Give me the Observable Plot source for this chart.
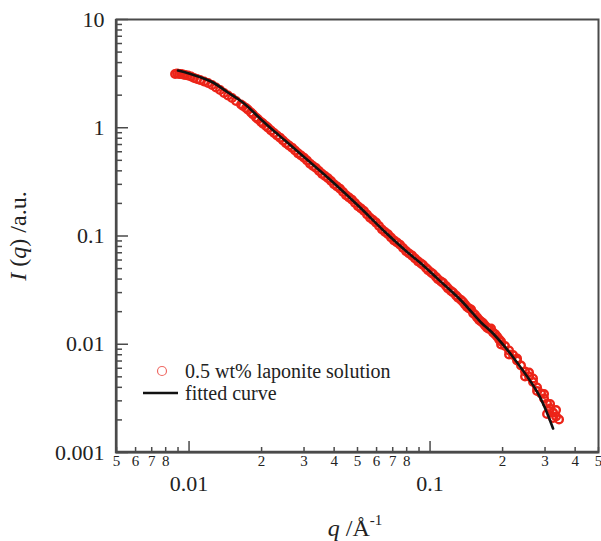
<!DOCTYPE html>
<html><head><meta charset="utf-8">
<script src="https://cdn.jsdelivr.net/npm/d3@7"></script>
<script src="https://cdn.jsdelivr.net/npm/@observablehq/plot@0.6"></script>
<style>
html,body{margin:0;padding:0;background:#fff;overflow:hidden;}
#chart{position:relative;width:601px;height:541px;}
#chart svg{display:block;max-width:none;}
</style></head><body><div id="chart"></div>
<script>
// Measured SAXS intensity (red circles)
const qObs = [0.00875,0.00892,0.00909,0.00926,0.00944,0.00963,0.00990,0.01019,0.01049,0.01079,0.01111,0.01154,0.01199,0.01246,0.01294,0.01345,0.01397,0.01451,0.01508,0.01567,
0.01644,0.01676,0.01724,0.01757,0.01808,0.01843,0.01897,0.01934,0.01990,0.02028,0.02087,0.02127,0.02189,0.02253,0.02318,0.02385,0.02455,0.02526,0.02599,0.02675,
0.02754,0.02834,0.02916,0.03001,0.03087,0.03177,0.03269,0.03364,0.03463,0.03564,0.03667,0.03774,0.03884,0.03997,0.04112,0.04232,0.04355,0.04482,0.04611,0.04745,
0.04883,0.05025,0.05172,0.05322,0.05478,0.05637,0.05800,0.05969,0.06143,0.06322,0.06505,0.06694,0.06890,0.07090,0.07297,0.07509,0.07727,0.07952,0.08184,0.08422,
0.08666,0.08918,0.09178,0.09355,0.09625,0.09811,0.1010,0.1029,0.1059,0.1079,0.1111,0.1132,0.1165,0.1187,0.1222,0.1246,0.1282,0.1307,0.1345,0.1371,
0.1397,0.1424,0.1452,0.1480,0.1508,0.1537,0.1567,0.1597,0.1628,0.1659,0.1691,0.1724,0.1757,0.1791,0.1826,0.1861,0.1897,0.1934,0.1971,0.1971,
0.2047,0.2127,0.2127,0.2210,0.2296,0.2296,0.2385,0.2478,0.2478,0.2575,0.2575,0.2675,0.2675,0.2780,0.2780,0.2888,0.2972,0.2972,0.3058,0.3058,
0.3148,0.3148,0.3239,0.3239,0.3333,0.3333,0.3430];
const iObs = [3.137,3.171,3.137,3.137,3.104,3.071,3.038,2.974,2.881,2.821,2.761,2.675,2.591,2.483,2.354,2.232,2.094,1.986,1.883,1.767,
1.640,1.59,1.522,1.465,1.383,1.326,1.244,1.197,1.130,1.092,1.038,0.999,0.943,0.894,0.848,0.81,0.762,0.718,0.686,0.655,
0.616,0.580,0.554,0.529,0.498,0.466,0.443,0.424,0.399,0.375,0.358,0.342,0.322,0.301,0.2867,0.273,0.2549,0.238,0.2268,0.216,
0.2017,0.1885,0.1795,0.1700,0.1580,0.1476,0.1405,0.1330,0.1237,0.1150,0.1089,0.1037,0.0969,0.0911,0.0871,0.0829,0.0775,0.0725,0.0689,0.0659,
0.0620,0.0583,0.0557,0.0539,0.0506,0.0484,0.0460,0.0446,0.0418,0.0399,0.0380,0.0369,0.0345,0.0328,0.0310,0.0301,0.0282,0.0269,0.0256,0.0246,
0.0233,0.0221,0.0214,0.02094,0.0194,0.0187,0.0177,0.0168,0.0162,0.0157,0.0149,0.0142,0.01383,0.01397,0.01284,0.0124,0.01179,0.0111,0.01060,0.00995,
0.00963,0.00876,0.00804,0.00796,0.00708,0.00739,0.00636,0.00560,0.00504,0.00504,0.00548,0.00448,0.00483,0.00399,0.00370,0.00351,0.00315,0.00347,0.00284,0.00227,
0.00255,0.00281,0.00234,0.00208,0.00215,0.00247,0.00202];

// Fitted curve (black line)
const qFit = [0.00900,0.0100,0.01234,0.01451,0.01691,0.01990,0.02189,0.02502,0.03000,0.03884,0.05025,0.06505,0.0799,0.09178,0.1090,0.1345,0.1628,0.1843,0.2231,0.2806,0.3239];
const iFit = [3.380,3.171,2.675,2.116,1.675,1.192,0.984,0.762,0.537,0.3257,0.1913,0.1089,0.0719,0.0557,0.0391,0.02536,0.01588,0.01231,0.00739,0.00351,0.001666];

// Axis ticks and labels
const xDomain = [0.005, 0.5];
const yDomain = [0.001, 10];
const xMajorTicks = [0.01, 0.1];
const xMajorLabels = ["0.01", "0.1"];
const xMinorTicks = [0.005,0.006,0.007,0.008,0.009,0.02,0.03,0.04,0.05,0.06,0.07,0.08,0.09,0.2,0.3,0.4,0.5];
const xMinorLabels = ["5","6","7","8","","2","3","4","5","6","7","8","","2","3","4","5"];
const yMajorTicks = [0.001, 0.01, 0.1, 1, 10];
const yMajorLabels = ["0.001", "0.01", "0.1", "1", "10"];
const yMinorTicks = [0.002,0.003,0.004,0.005,0.006,0.007,0.008,0.009,
  0.02,0.03,0.04,0.05,0.06,0.07,0.08,0.09,
  0.2,0.3,0.4,0.5,0.6,0.7,0.8,0.9,
  2,3,4,5,6,7,8,9];
const legendLabels = ["0.5 wt% laponite solution", "fitted curve"];

const obs = qObs.map((q, i) => ({q, I: iObs[i]}));
const fit = qFit.map((q, i) => ({q, I: iFit[i]}));

const W = 601, H = 541, ML = 116, MR = 3, MT = 19, MB = 89;
const FW = W - ML - MR, FH = H - MT - MB;
const axisColor = "#4a4a4a";
const textColor = "#222";
const redColor = "#ec2418";
const serif = "'Liberation Serif', 'Times New Roman', serif";

const plot = Plot.plot({
  width: W, height: H,
  marginLeft: ML, marginRight: MR, marginTop: MT, marginBottom: MB,
  style: {fontFamily: serif, background: "white", overflow: "visible", maxWidth: "none"},
  x: {type: "log", domain: xDomain, axis: null},
  y: {type: "log", domain: yDomain, axis: null},
  marks: [
    Plot.dot(obs, {x: "q", y: "I", r: 3.8, stroke: redColor, strokeWidth: 2.4, fill: "none"}),
    Plot.line(fit, {x: "q", y: "I", stroke: "#111", strokeWidth: 2.6, curve: "catmull-rom"}),
    Plot.ruleY(yMinorTicks, {y: d => d, insetRight: FW - 6, stroke: axisColor, strokeWidth: 1.5}),
    Plot.ruleY(yMajorTicks, {y: d => d, insetRight: FW - 12, stroke: axisColor, strokeWidth: 1.5}),
    Plot.ruleX(xMinorTicks, {x: d => d, insetTop: FH - 5, stroke: axisColor, strokeWidth: 1.5}),
    Plot.ruleX(xMajorTicks, {x: d => d, insetTop: FH - 11, stroke: axisColor, strokeWidth: 1.5}),
    Plot.frame({stroke: axisColor, strokeWidth: 2}),
    Plot.text(yMajorTicks, {y: d => d, frameAnchor: "left", dx: -12, textAnchor: "end",
      text: (d, i) => yMajorLabels[i], fontSize: 22, fill: textColor}),
    Plot.text(xMinorTicks, {x: d => d, frameAnchor: "bottom", dy: 13,
      text: (d, i) => xMinorLabels[i], fontSize: 15, fill: textColor}),
    Plot.text(xMajorTicks, {x: d => d, frameAnchor: "bottom", dy: 38,
      text: (d, i) => xMajorLabels[i], fontSize: 22, fill: textColor})
  ]
});
document.getElementById("chart").appendChild(plot);

const svg = d3.select(plot);
// heavier left and bottom axis lines
svg.append("path")
  .attr("d", `M${ML},${MT}V${H - MB}H${W - MR}`)
  .attr("fill", "none").attr("stroke", axisColor).attr("stroke-width", 2.3);

// x axis title
const xt = svg.append("text").attr("x", 355).attr("y", 536).attr("text-anchor", "middle")
  .attr("font-family", serif).attr("font-size", 24).attr("fill", textColor);
xt.append("tspan").attr("font-style", "italic").text("q");
xt.append("tspan").text(" /Å");
xt.append("tspan").attr("dy", -11).attr("font-size", 15).text("-1");

// y axis title
const yt = svg.append("text").attr("transform", "translate(26,236) rotate(-90)")
  .attr("text-anchor", "middle").attr("font-family", serif).attr("font-size", 24).attr("fill", textColor);
yt.append("tspan").attr("font-style", "italic").text("I");
yt.append("tspan").text(" (");
yt.append("tspan").attr("font-style", "italic").text("q");
yt.append("tspan").text(") /a.u.");

// legend
const lg = svg.append("g").attr("font-family", serif).attr("font-size", 20)
  .attr("fill", textColor).attr("text-anchor", "start");
lg.append("circle").attr("cx", 162).attr("cy", 371).attr("r", 4.5)
  .attr("fill", "none").attr("stroke", "#ef6a64").attr("stroke-width", 1.2);
lg.append("text").attr("x", 185).attr("y", 371).attr("dy", "0.35em").text(legendLabels[0]);
lg.append("line").attr("x1", 143).attr("x2", 178).attr("y1", 393).attr("y2", 393)
  .attr("stroke", "#111").attr("stroke-width", 2.6);
lg.append("text").attr("x", 185).attr("y", 393).attr("dy", "0.35em").text(legendLabels[1]);
</script>
</body></html>
